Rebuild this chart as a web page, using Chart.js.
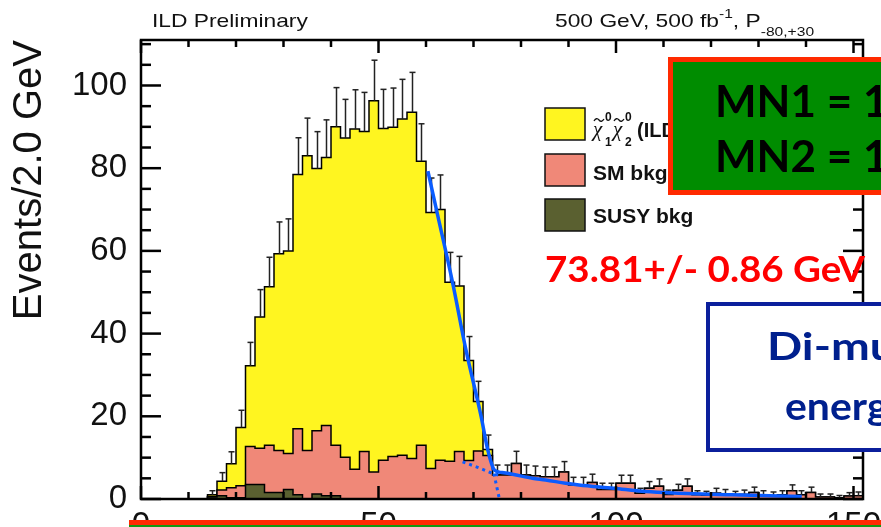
<!DOCTYPE html>
<html>
<head>
<meta charset="utf-8">
<script src="https://cdn.jsdelivr.net/npm/chart.js@4.4.0/dist/chart.umd.min.js"></script>
<style>
  html, body { margin: 0; padding: 0; background: #fff; }
  #wrap { width: 881px; height: 527px; }
</style>
</head>
<body>
<div id="wrap"><canvas id="dimuonChart" width="881" height="527"></canvas></div>
<script>
// Di-muon energy, 2 GeV bins from 0 to 152 GeV
const binWidth = 2;
const xTickValues = [0, 50, 100, 150];
const yTickValues = [0, 20, 40, 60, 80, 100];

// chi1 chi2 signal (yellow), per bin
const signal = [
  0, 0, 0, 0, 0, 0, 0, 0.4, 2.1, 5.8,
  14.1, 19.5, 31.7, 38.3, 47.6, 49.0, 61.5, 71.3, 63.4, 64.8,
  77.0, 77.2, 82.3, 77.4, 89.8, 80.2, 79.6, 81.3, 83.7, 68.7,
  61.9, 60.6, 43.3, 40.0, 24.2, 12.0, 1.5, 0, 0, 0,
  0, 0, 0, 0, 0, 0, 0, 0, 0, 0,
  0, 0, 0, 0, 0, 0, 0, 0, 0, 0,
  0, 0, 0, 0, 0, 0, 0, 0, 0, 0,
  0, 0, 0, 0, 0, 0
];

// SM background (salmon), per bin
const smBkg = [
  0, 0, 0, 0, 0, 0, 0, 0.1, 1.4, 2.4,
  2.9, 9.2, 8.8, 11.4, 10.1, 8.7, 16.0, 11.7, 15.3, 17.0,
  12.2, 10.1, 7.2, 11.5, 6.5, 9.4, 10.3, 10.6, 9.8, 13.0,
  7.4, 9.4, 9.1, 11.5, 9.3, 11.6, 10.5, 5.8, 5.8, 8.6,
  5.8, 5.6, 5.4, 5.4, 6.5, 3.4, 3.4, 4.0, 2.3, 2.3,
  3.8, 3.8, 1.4, 2.6, 3.1, 1.1, 2.1, 3.1, 1.0, 0.9,
  1.4, 1.2, 0.9, 1.1, 1.6, 1.0, 0.8, 1.0, 2.0, 1.0,
  1.6, 0.5, 0.5, 0.3, 0.7, 0.8
];

// SUSY background (olive), per bin
const susyBkg = [
  0, 0, 0, 0, 0, 0, 0, 0.5, 0.8, 0.3,
  0.3, 3.5, 3.5, 1.6, 1.6, 2.3, 1.0, 0, 1.2, 0.8,
  0.8, 0, 0, 0, 0, 0, 0, 0, 0, 0,
  0, 0, 0, 0, 0, 0, 0, 0, 0, 0,
  0, 0, 0, 0, 0, 0, 0, 0, 0, 0,
  0, 0, 0, 0, 0, 0, 0, 0, 0, 0,
  0, 0, 0, 0, 0, 0, 0, 0, 0, 0,
  0, 0, 0, 0, 0, 0
];

// edge fit (solid) and its two components (dotted)
const fitX = [60.4, 62.5, 65.6, 68.4, 71.6, 73.0, 74.4, 76.0, 78.2, 82.4, 85.2, 89.4, 92.2, 99.5, 106.2, 113.2, 124.4, 139.1];
const fitY = [79.3, 68.4, 52.3, 36.1, 20.0, 11.9, 7.0, 6.4, 6.0, 5.0, 4.6, 3.8, 3.4, 2.6, 1.8, 1.4, 1.0, 0.6];
const bkgFitX = [67.7, 71.0, 74.4, 76.0];
const bkgFitY = [9.0, 7.6, 6.0, 5.6];
const sigFitX = [74.0, 74.7, 75.4];
const sigFitY = [7.8, 4.0, 0.3];

const legendLabels = ['(ILD)', 'SM bkg', 'SUSY bkg'];
const legendColors = ['#fff520', '#f08878', '#5a6030'];

// stacked histogram tops
const stackSusy = susyBkg.slice();
const stackBkg = smBkg.map((v, i) => v + susyBkg[i]);
const stackAll = signal.map((v, i) => v + stackBkg[i]);

function steps(vals) {
  const pts = vals.map((v, i) => ({ x: i * binWidth, y: v }));
  pts.push({ x: vals.length * binWidth, y: 0 });
  return pts;
}
function pairs(xs, ys) {
  return xs.map((x, i) => ({ x: x, y: ys[i] }));
}

const SANS = '"Liberation Sans", Arial, sans-serif';
const SLIDE = 'Lato, sans-serif';

// draws a row of text runs, squeezed or widened horizontally by sx
function runText(ctx, x, y, sx, runs) {
  ctx.save();
  ctx.translate(x, y);
  ctx.scale(sx, 1);
  let cx = 0;
  for (const r of runs) {
    ctx.font = r.font;
    ctx.fillText(r.text, cx, r.dy || 0);
    cx += ctx.measureText(r.text).width;
  }
  ctx.restore();
}

function line(ctx, x1, y1, x2, y2) {
  ctx.beginPath();
  ctx.moveTo(x1, y1);
  ctx.lineTo(x2, y2);
  ctx.stroke();
}

// chi with tilde, superscript 0 and a subscript
function chiTilde(ctx, x, sub) {
  ctx.font = 'italic 21px "Liberation Serif", serif';
  ctx.fillText('\u03c7', x, 136);
  ctx.lineWidth = 1.3;
  ctx.beginPath();
  ctx.moveTo(x + 1, 121);
  ctx.quadraticCurveTo(x + 3.5, 117, x + 6, 120);
  ctx.quadraticCurveTo(x + 8.5, 123, x + 11, 119);
  ctx.stroke();
  ctx.font = 'bold 12px ' + SANS;
  ctx.fillText('0', x + 12, 121);
  ctx.fillText(sub, x + 12, 146);
}

const rootStyle = {
  id: 'rootStyle',
  // sqrt(N) error bars on the stacked total, drawn right after the last histogram
  afterDatasetDraw(chart, args) {
    if (args.index !== 2) return;
    const ctx = chart.ctx, xs = chart.scales.x, ys = chart.scales.y;
    ctx.save();
    ctx.strokeStyle = '#222';
    ctx.lineWidth = 1.5;
    stackAll.forEach((v, i) => {
      if (v <= 0) return;
      const px = Math.round(xs.getPixelForValue(i * binWidth + binWidth / 2)) + 0.5;
      const y0 = ys.getPixelForValue(v);
      const y1 = ys.getPixelForValue(v + Math.sqrt(v));
      line(ctx, px, y0, px, y1);
      line(ctx, px - 3, y1, px + 3, y1);
    });
    ctx.restore();
  },
  // frame with inward ticks on all four sides
  afterDatasetsDraw(chart) {
    const ctx = chart.ctx, xs = chart.scales.x, ys = chart.scales.y;
    const { left, right, top, bottom } = chart.chartArea;
    ctx.save();
    ctx.strokeStyle = '#000';
    ctx.lineWidth = 2.5;
    for (let v = 0; v <= 150; v += 10) {
      const px = xs.getPixelForValue(v);
      const len = v % 50 === 0 ? 13 : 7;
      line(ctx, px, bottom, px, bottom - len);
      line(ctx, px, top, px, top + len);
    }
    for (let v = 0; v <= 110; v += 5) {
      const py = ys.getPixelForValue(v);
      const len = v % 20 === 0 ? 20 : 10;
      line(ctx, left, py, left + len, py);
      line(ctx, right, py, right - len, py);
    }
    ctx.strokeRect(left, top, right - left, bottom - top);
    ctx.restore();
  },
  afterDraw(chart) {
    const ctx = chart.ctx;
    ctx.save();
    ctx.fillStyle = '#111';
    ctx.strokeStyle = '#111';
    ctx.textBaseline = 'alphabetic';
    ctx.textAlign = 'left';

    // header
    runText(ctx, 152, 27, 1.2, [{ text: 'ILD Preliminary', font: '19px ' + SANS }]);
    runText(ctx, 555, 27, 1.2, [
      { text: '500 GeV, 500 fb', font: '19px ' + SANS },
      { text: '-1', font: '13px ' + SANS, dy: -9 },
      { text: ', P', font: '19px ' + SANS },
      { text: '-80,+30', font: '13px ' + SANS, dy: 9 }
    ]);

    // legend
    const boxY = [108, 154, 199];
    boxY.forEach((y, i) => {
      ctx.fillStyle = legendColors[i];
      ctx.fillRect(545, y, 40, 32);
      ctx.strokeStyle = '#111';
      ctx.lineWidth = 1.5;
      ctx.strokeRect(545, y, 40, 32);
    });
    ctx.fillStyle = '#111';
    chiTilde(ctx, 593, '1');
    chiTilde(ctx, 613, '2');
    ctx.font = 'bold 20px ' + SANS;
    ctx.fillText(legendLabels[0], 637, 137);
    ctx.font = 'bold 21px ' + SANS;
    ctx.fillText(legendLabels[1], 593, 180);
    ctx.fillText(legendLabels[2], 593, 223);

    // fitted edge
    ctx.fillStyle = '#ff0000';
    runText(ctx, 545, 282, 1.07, [{ text: '73.81+/- 0.86 GeV', font: 'bold 36px ' + SLIDE }]);

    // mass box
    ctx.fillStyle = '#008c00';
    ctx.fillRect(668, 57, 240, 138);
    ctx.strokeStyle = '#ff2a00';
    ctx.lineWidth = 5;
    ctx.strokeRect(670.5, 59.5, 240, 133);
    ctx.fillStyle = '#000';
    ctx.font = 'bold 44px ' + SLIDE;
    ctx.fillText('MN1 = 1', 715, 117);
    ctx.fillText('MN2 = 1', 715, 172);

    // observable box
    ctx.fillStyle = '#fff';
    ctx.fillRect(706, 302, 200, 150);
    ctx.strokeStyle = '#0b1f9c';
    ctx.lineWidth = 4;
    ctx.strokeRect(708, 304, 200, 146);
    ctx.fillStyle = '#00208e';
    runText(ctx, 767, 360, 1.22, [{ text: 'Di-muon', font: 'bold 38px ' + SLIDE }]);
    runText(ctx, 785, 420, 1.05, [{ text: 'energy', font: 'bold 39px ' + SLIDE }]);

    // bottom rule
    ctx.fillStyle = '#ff2a00';
    ctx.fillRect(129, 520, 752, 5);
    ctx.fillStyle = '#119911';
    ctx.fillRect(129, 525, 752, 2);
    ctx.restore();
  }
};

Chart.defaults.font.family = SANS;

const ctx = document.getElementById('dimuonChart').getContext('2d');

new Chart(ctx, {
  type: 'line',
  data: {
    datasets: [
      {
        label: 'signal',
        data: steps(stackAll),
        stepped: true,
        fill: 'origin',
        backgroundColor: legendColors[0],
        borderColor: '#000',
        borderWidth: 1.5,
        pointRadius: 0,
        order: 3
      },
      {
        label: 'SM bkg',
        data: steps(stackBkg),
        stepped: true,
        fill: 'origin',
        backgroundColor: legendColors[1],
        borderColor: '#000',
        borderWidth: 1.5,
        pointRadius: 0,
        order: 2
      },
      {
        label: 'SUSY bkg',
        data: steps(stackSusy),
        stepped: true,
        fill: 'origin',
        backgroundColor: legendColors[2],
        borderColor: '#000',
        borderWidth: 1.5,
        pointRadius: 0,
        order: 1
      },
      {
        label: 'fit',
        data: pairs(fitX, fitY),
        borderColor: '#0a5cff',
        borderWidth: 3.5,
        cubicInterpolationMode: 'monotone',
        pointRadius: 0,
        fill: false,
        order: 0
      },
      {
        label: 'fit bkg',
        data: pairs(bkgFitX, bkgFitY),
        borderColor: '#0a5cff',
        borderWidth: 3,
        borderDash: [3, 4],
        pointRadius: 0,
        fill: false,
        order: 0
      },
      {
        label: 'fit signal',
        data: pairs(sigFitX, sigFitY),
        borderColor: '#0a5cff',
        borderWidth: 3,
        borderDash: [3, 4],
        pointRadius: 0,
        fill: false,
        order: 0
      }
    ]
  },
  options: {
    responsive: false,
    animation: false,
    layout: { padding: { top: 40, right: 18, bottom: 0, left: 0 } },
    plugins: { legend: { display: false }, tooltip: { enabled: false } },
    scales: {
      x: {
        type: 'linear',
        min: 0,
        max: 152,
        grid: { display: false, drawTicks: false },
        border: { display: false },
        ticks: {
          autoSkip: false,
          maxRotation: 0,
          padding: 7,
          color: '#111',
          font: { size: 33, family: SANS }
        },
        afterBuildTicks(s) { s.ticks = xTickValues.map(v => ({ value: v })); },
        afterFit(s) { s.height = 28; s.paddingLeft = 0; s.paddingRight = 0; }
      },
      y: {
        min: 0,
        max: 111,
        grid: { display: false, drawTicks: false },
        border: { display: false },
        ticks: {
          padding: 14,
          color: '#111',
          font: { size: 33, family: SANS }
        },
        title: {
          display: true,
          text: 'Events/2.0 GeV',
          align: 'end',
          color: '#111',
          font: { size: 40, family: SANS, lineHeight: 1.2 },
          padding: { top: 6, bottom: 0 }
        },
        afterBuildTicks(s) { s.ticks = yTickValues.map(v => ({ value: v })); },
        afterFit(s) { s.width = 141; s.paddingTop = 0; s.paddingBottom = 0; }
      }
    }
  },
  plugins: [rootStyle]
});
</script>
</body>
</html>
